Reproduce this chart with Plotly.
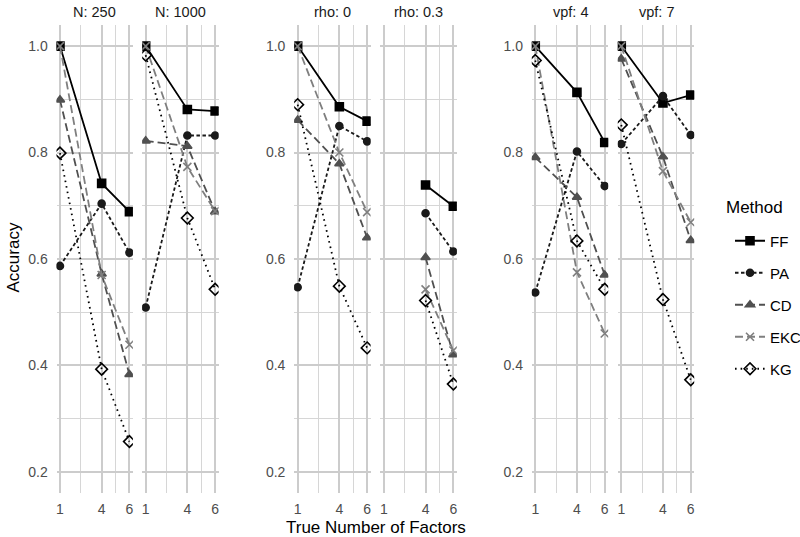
import plotly.graph_objects as go

# ---- data ----
panels = ["N: 250", "N: 1000", "rho: 0", "rho: 0.3", "vpf: 4", "vpf: 7"]
factors = [1, 4, 6]
methods = ["FF", "PA", "CD", "EKC", "KG"]

FF = [[1.000, 0.742, 0.689], [1.000, 0.881, 0.878], [1.000, 0.886, 0.859],
      [None, 0.739, 0.699], [1.000, 0.913, 0.819], [1.000, 0.893, 0.908]]
PA = [[0.587, 0.704, 0.612], [0.509, 0.832, 0.832], [0.547, 0.850, 0.821],
      [None, 0.686, 0.614], [0.537, 0.802, 0.737], [0.816, 0.906, 0.833]]
CD = [[0.899, 0.572, 0.383], [0.822, 0.812, 0.689], [0.861, 0.779, 0.640],
      [None, 0.603, 0.420], [0.791, 0.716, 0.570], [0.976, 0.792, 0.635]]
EKC = [[1.000, 0.570, 0.439], [1.000, 0.773, 0.690], [1.000, 0.800, 0.688],
       [None, 0.543, 0.428], [1.000, 0.575, 0.460], [1.000, 0.765, 0.669]]
KG = [[0.799, 0.393, 0.257], [0.983, 0.677, 0.543], [0.890, 0.549, 0.433],
      [None, 0.522, 0.365], [0.973, 0.634, 0.543], [0.852, 0.524, 0.373]]

y_ticks = [0.2, 0.4, 0.6, 0.8, 1.0]
y_tick_labels = ["0.2", "0.4", "0.6", "0.8", "1.0"]

series = {"FF": FF, "PA": PA, "CD": CD, "EKC": EKC, "KG": KG}
styles = {
    "FF": dict(color="#000000", dash="solid", symbol="square", size=8, mcolor="#000000"),
    "PA": dict(color="#1a1a1a", dash="3.5px,2.5px", symbol="circle", size=7, mcolor="#1a1a1a"),
    "CD": dict(color="#505050", dash="8px,4px", symbol="triangle-up", size=8, mcolor="#505050"),
    "EKC": dict(color="#7f7f7f", dash="8px,4px", symbol="x-thin", size=8, mcolor="#7f7f7f"),
    "KG": dict(color="#000000", dash="1.6px,4px", symbol="diamond-open", size=9, mcolor="#000000"),
}

W, H = 800, 537


def px_x(p):
    return p / W


def px_y(p):
    return 1 - p / H


panel_px = [(56.5, 132.9), (142.2, 218.6), (294.2, 370.6),
            (380.4, 456.8), (531.8, 608.2), (617.8, 694.2)]
y_top, y_bot = 24.8, 493.2
ydom = [px_y(y_bot), px_y(y_top)]

FONT = "Liberation Sans, Arial, sans-serif"
TICKFONT = dict(family=FONT, size=14, color="#4d4d4d")
fig = go.Figure()

for i, pname in enumerate(panels):
    ax = "" if i == 0 else str(i + 1)
    for m in methods:
        st = styles[m]
        fig.add_trace(go.Scatter(
            x=factors, y=series[m][i], mode="lines+markers", name=m,
            legendgroup=m, showlegend=(i == 0),
            xaxis="x" + ax, yaxis="y" + ax,
            line=dict(color=st["color"], dash=st["dash"], width=1.8),
            marker=dict(symbol=st["symbol"], size=st["size"], color=st["mcolor"],
                        line=dict(width=1.6, color=st["mcolor"])),
        ))
    l, r = panel_px[i]
    fig.layout["xaxis" + ax] = dict(
        domain=[px_x(l), px_x(r)], range=[0.75, 6.25], anchor="y" + ax,
        tickvals=factors, ticktext=[str(f) for f in factors],
        showgrid=True, gridcolor="#cccccc", gridwidth=1.6,
        minor=dict(tickvals=[2.5, 5], showgrid=True, gridcolor="#d6d6d6", gridwidth=1),
        zeroline=False, showline=False, ticks="outside", ticklen=3,
        tickcolor="rgba(0,0,0,0)", tickfont=TICKFONT, automargin=False,
    )
    fig.layout["yaxis" + ax] = dict(
        domain=ydom, range=[0.16, 1.04], anchor="x" + ax,
        tickvals=y_ticks, ticktext=y_tick_labels, showticklabels=(i % 2 == 0),
        showgrid=True, gridcolor="#cccccc", gridwidth=1.6,
        minor=dict(tickvals=[0.3, 0.5, 0.7, 0.9], showgrid=True, gridcolor="#d6d6d6", gridwidth=1),
        zeroline=False, showline=False, ticks="outside", ticklen=5,
        tickcolor="rgba(0,0,0,0)", tickfont=TICKFONT, automargin=False,
    )
    fig.add_annotation(text=pname, x=px_x((l + r) / 2), y=px_y(12), xref="paper", yref="paper",
                       showarrow=False, font=dict(family=FONT, size=14.5, color="#1a1a1a"),
                       xanchor="center", yanchor="middle")

fig.add_annotation(text="Accuracy", x=px_x(13), y=px_y(257.5), xref="paper", yref="paper",
                   textangle=-90, showarrow=False, font=dict(family=FONT, size=17, color="#000"),
                   xanchor="center", yanchor="middle")
fig.add_annotation(text="True Number of Factors", x=px_x(375.5), y=px_y(527), xref="paper",
                   yref="paper", showarrow=False, font=dict(family=FONT, size=17, color="#000"),
                   xanchor="center", yanchor="middle")
fig.add_annotation(text="Method", x=px_x(724), y=px_y(207), xref="paper", yref="paper",
                   showarrow=False, font=dict(family=FONT, size=17, color="#000"),
                   xanchor="left", yanchor="middle")

fig.update_layout(
    width=W, height=H, margin=dict(l=0, r=0, t=0, b=0, autoexpand=False),
    paper_bgcolor="white", plot_bgcolor="white",
    legend=dict(x=px_x(730), y=px_y(224.5), xanchor="left", yanchor="top",
                font=dict(family=FONT, size=15, color="#000"), tracegroupgap=9.5,
                bgcolor="rgba(0,0,0,0)", itemwidth=30),
)

fig.write_html(
    "out.html",
    config={"displayModeBar": False},
    post_script="document.body.style.margin='0';document.body.style.overflow='hidden';",
)
